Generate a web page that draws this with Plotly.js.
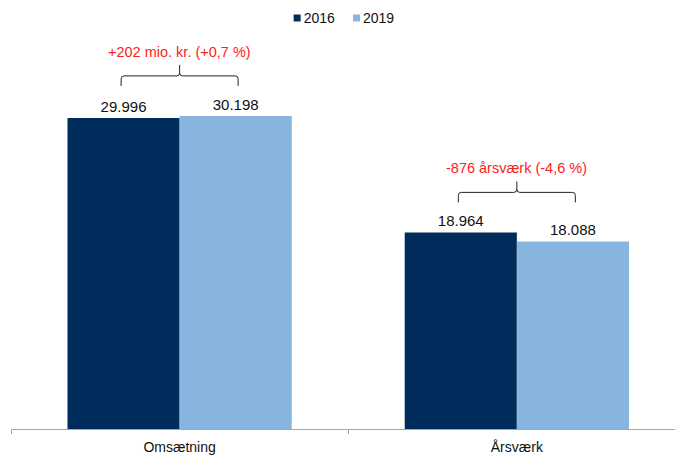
<!DOCTYPE html>
<html>
<head>
<meta charset="utf-8">
<script src="https://cdn.plot.ly/plotly-3.0.1.min.js"></script>
<style>html,body{margin:0;padding:0;background:#fff;}#chart{width:675px;height:455px;}</style>
</head>
<body>
<div id="chart"></div>
<script>
// ---- data ----
const categories = ["Omsætning", "Årsværk"];
const seriesNames = ["2016", "2019"];
const values2016 = [29996, 18964];
const values2019 = [30198, 18088];
const changeLabels = ["+202 mio. kr. (+0,7 %)", "-876 årsværk (-4,6 %)"];

const colors = ["#002C5B", "#87B5DE"];
const FONT = "Liberation Sans, Arial, sans-serif";

const traces = [values2016, values2019].map((vals, i) => ({
  type: "bar",
  name: seriesNames[i],
  x: categories,
  y: vals,
  marker: { color: colors[i], line: { width: 0 } },
  texttemplate: "%{y:,.0f}",
  textposition: "outside",
  cliponaxis: false,
  textfont: { family: FONT, size: 15, color: "#111" },
  hoverinfo: "skip"
}));

// brace (in pixels relative to anchor: group index, max value of group)
const bracePath = "M -58.5 30 L -58.5 37 Q -58.5 40 -55.5 40 L -3 40 Q 0 40 0 43 L 0 51 M 0 43 Q 0 40 3 40 L 55.5 40 Q 58.5 40 58.5 37 L 58.5 30";

const shapes = [];
const annotations = [];
categories.forEach((c, i) => {
  const top = Math.max(values2016[i], values2019[i]);
  shapes.push({
    type: "path", xref: "x", yref: "y",
    xsizemode: "pixel", ysizemode: "pixel",
    xanchor: i, yanchor: top,
    path: bracePath,
    line: { color: "#222", width: 1 },
    layer: "above"
  });
  annotations.push({
    xref: "x", yref: "y", x: i, y: top,
    text: changeLabels[i], showarrow: false,
    yanchor: "middle", yshift: 64,
    font: { family: FONT, size: 14.5, color: "#ff2020" }
  });
});

const layout = {
  width: 675, height: 455,
  margin: { l: 11, r: 0, t: 40, b: 26 },
  paper_bgcolor: "#fff", plot_bgcolor: "#fff",
  separators: ",.",
  font: { family: FONT, size: 14, color: "#111" },
  barmode: "group", bargap: 0.335, bargroupgap: 0,
  showlegend: true,
  legend: {
    orientation: "h", x: 0.5, xanchor: "center",
    yref: "container", y: 0.995, yanchor: "top",
    font: { family: FONT, size: 14, color: "#111" },
    traceorder: "normal"
  },
  xaxis: {
    type: "category", range: [-0.5, 1.469],
    showline: true, linecolor: "#a6a6a6", linewidth: 1,
    ticks: "outside", tickson: "boundaries", ticklen: 4, tickcolor: "#a6a6a6",
    ticklabelstandoff: 5,
    tickfont: { family: FONT, size: 14, color: "#111" },
    showgrid: false, zeroline: false, fixedrange: true
  },
  yaxis: {
    range: [0, 37519], visible: false, showgrid: false, zeroline: false, fixedrange: true
  },
  shapes: shapes,
  annotations: annotations
};

Plotly.newPlot("chart", traces, layout, { staticPlot: true, displayModeBar: false }).then(gd => {
  // compact legend: small squares right next to the text, tight spacing, centred
  const items = Array.from(gd.querySelectorAll(".legend g.traces"));
  const SQ = 7, GAP = 3, ITEMGAP = 18, CENTER = 344;
  const widths = items.map(g => g.querySelector(".legendtext").getBBox().width);
  const total = widths.reduce((a, w) => a + SQ + GAP + w, 0) + ITEMGAP * (items.length - 1);
  let cursor = CENTER - total / 2;
  items.forEach((g, k) => {
    const txt = g.querySelector(".legendtext");
    const tl = txt.getBoundingClientRect().left;
    const desiredText = cursor + SQ + GAP;
    const dx = desiredText - tl;
    const prev = g.getAttribute("transform") || "";
    g.setAttribute("transform", prev + " translate(" + dx + ",0)");
    g.querySelectorAll(".legendpoints path").forEach(p => {
      p.removeAttribute("transform");
      const r = p.getBoundingClientRect();
      const cx = (r.left + r.right) / 2;
      const want = cursor + SQ / 2;
      p.setAttribute("transform", "translate(" + (want - cx) + ",0) scale(" + (SQ / 12) + ")");
    });
    cursor += SQ + GAP + widths[k] + ITEMGAP;
  });
});
</script>
</body>
</html>
